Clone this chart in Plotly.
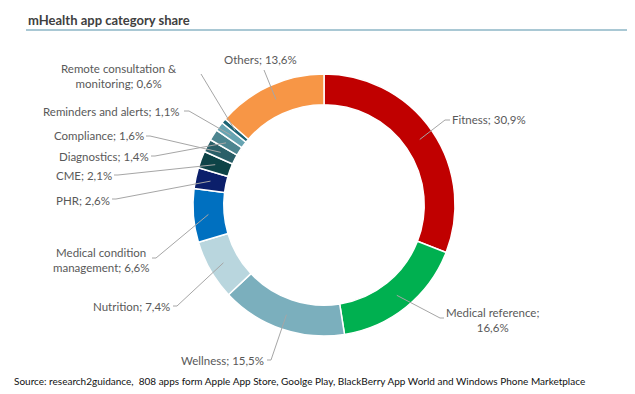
import math
import plotly.graph_objects as go

W, H = 635, 394

# ---- data ----
categories = ["Fitness", "Medical reference", "Wellness", "Nutrition",
              "Medical condition management", "PHR", "CME", "Compliance",
              "Diagnostics", "Reminders and alerts",
              "Remote consultation & monitoring", "Others"]
shares = [30.9, 16.6, 15.5, 7.4, 6.6, 2.6, 2.1, 1.6, 1.4, 1.1, 0.6, 13.6]
label_texts = ["Fitness; 30,9%", "Medical reference;<br>16,6%", "Wellness; 15,5%",
               "Nutrition; 7,4%", "Medical condition<br>management; 6,6%",
               "PHR; 2,6%", "CME; 2,1%", "Compliance; 1,6%", "Diagnostics; 1,4%",
               "Reminders and alerts; 1,1%",
               "Remote consultation &<br>monitoring; 0,6%", "Others; 13,6%"]
colors = ["#C00000", "#00B050", "#7BAFBD", "#B9D6DE", "#0070C0", "#0B1F6B",
          "#0D4347", "#2A5F68", "#4D8590", "#67A4B2", "#1C6475", "#F79646"]

# ---- layout (pixels) ----
cx, cy, r_out, hole = 316, 197, 131, 0.765
r_lead = 116
# label anchor (x, y, xanchor, align), leader end (x,y), elbow end x
label_pos = [
    (443, 112, "left", "left", (437, 112), 442),
    (484, 312, "center", "center", (432, 310), 436),
    (214, 352, "center", "center", (263, 352), 259),
    (163, 298, "right", "right", (169, 298), 165),
    (93, 252, "center", "center", (148, 250), 144),
    (103, 192, "right", "right", (108, 191), 104),
    (105, 167, "right", "right", (110, 167), 106),
    (137, 128, "right", "right", (142, 128), 138),
    (142, 148, "right", "right", (147, 148), 143),
    (173, 103, "right", "right", (181, 103), 176),
    (170, 68, "right", "center", (193, 66), 193),
    (252, 52, "center", "center", (256, 62), 256),
]

def px(x):
    return x / W

def py(y):
    return 1 - y / H

fig = go.Figure()
fig.add_trace(go.Pie(
    labels=categories, values=shares, sort=False, direction="clockwise",
    rotation=0, hole=hole, textinfo="none", hoverinfo="label+percent",
    marker=dict(colors=colors, line=dict(color="white", width=1.5)),
    domain=dict(x=[px(cx - r_out), px(cx + r_out)],
                y=[py(cy + r_out), py(cy - r_out)]),
    showlegend=False,
))

shapes = []
annotations = []
total = sum(shares)
cum = 0.0
for v, txt, lp in zip(shares, label_texts, label_pos):
    mid = (cum + v / 2) / total
    cum += v
    th = 2 * math.pi * mid
    sx = cx + r_lead * math.sin(th)
    sy = cy - r_lead * math.cos(th)
    lx, ly, xa, al, (ex, ey), ex2 = lp
    path = f"M {px(sx)} {py(sy)} L {px(ex)} {py(ey)} L {px(ex2)} {py(ey)}"
    shapes.append(dict(type="path", xref="paper", yref="paper", path=path,
                       line=dict(color="#A6A6A6", width=1)))
    annotations.append(dict(x=px(lx), y=py(ly), xref="paper", yref="paper",
                            text=txt, showarrow=False, xanchor=xa, yanchor="middle",
                            align=al, borderpad=0,
                            font=dict(family="Lato", size=11.5, color="#595959")))

# title and underline
annotations.append(dict(x=px(19), y=py(12), xref="paper", yref="paper",
                        text="<b>mHealth app category share</b>", showarrow=False,
                        xanchor="left", yanchor="middle", borderpad=0,
                        font=dict(family="Lato", size=13, color="#404040")))
shapes.append(dict(type="line", xref="paper", yref="paper",
                   x0=px(18), x1=px(619), y0=py(22), y1=py(22),
                   line=dict(color="#8DB6C6", width=1.5)))
annotations.append(dict(x=px(5), y=py(373), xref="paper", yref="paper",
                        text="Source: research2guidance,  808 apps form Apple App Store, Goolge Play, BlackBerry App World and Windows Phone Marketplace",
                        showarrow=False, xanchor="left", yanchor="middle", borderpad=0,
                        font=dict(family="Lato", size=10, color="#111111")))

fig.update_layout(
    width=W, height=H, margin=dict(l=0, r=0, t=0, b=0),
    paper_bgcolor="white", plot_bgcolor="white",
    shapes=shapes, annotations=annotations,
)
fig.write_html("out.html")
